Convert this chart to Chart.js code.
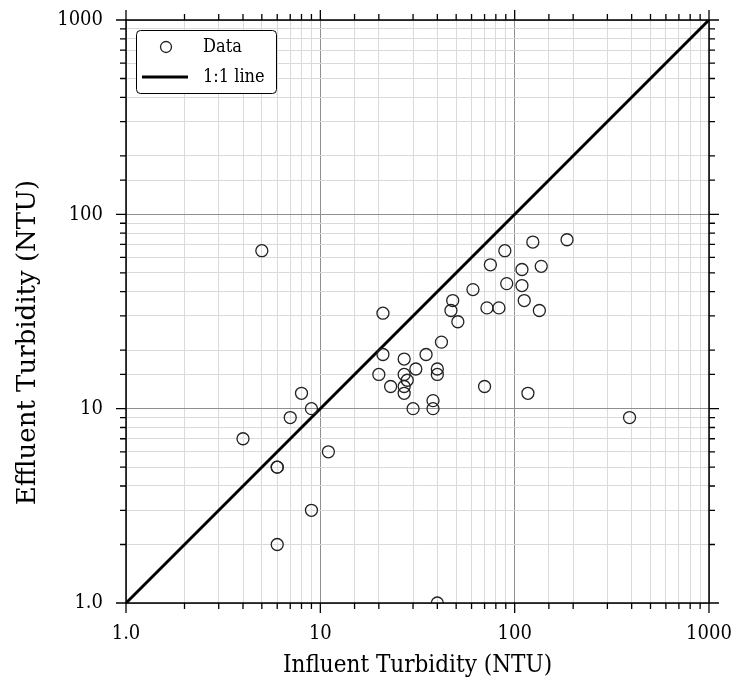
<!DOCTYPE html>
<html>
<head>
<meta charset="utf-8">
<script src="https://cdn.jsdelivr.net/npm/chart.js@4.4.0/dist/chart.umd.min.js"></script>
<style>
    html, body { margin: 0; padding: 0; background: #fff; }
    #wrap { width: 736px; height: 681px; }
</style>
</head>
<body>
<div id="wrap"><canvas id="turbChart" width="736" height="681"></canvas></div>
<script>
// influent / effluent turbidity (NTU)
const influent = [5, 4, 6, 6, 6, 7, 8, 9, 9, 11,
    21, 21, 20, 23, 27, 27, 28, 27, 27, 31, 30, 35, 40, 40, 38, 38, 42,
    48, 47, 51, 61, 72, 83, 75, 89, 91, 70, 109, 109, 112, 124, 137, 134, 117, 186,
    390, 40];
const effluent = [65, 7, 5, 5, 2, 9, 12, 10, 3, 6,
    31, 19, 15, 13, 18, 15, 14, 13, 12, 16, 10, 19, 16, 15, 11, 10, 22,
    36, 32, 28, 41, 33, 33, 55, 65, 44, 13, 52, 43, 36, 72, 54, 32, 12, 74,
    9, 1];
const oneToOne = [1, 1000];
const majorTicks = [1, 10, 100, 1000];
const tickLabels = ['1.0', '10', '100', '1000'];
const xTitle = 'Influent Turbidity (NTU)';
const yTitle = 'Effluent Turbidity (NTU)';

const FONT = "'DejaVu Serif Condensed', 'DejaVu Serif', serif";

function isMajor(v) {
    return majorTicks.includes(Math.round(v * 1000) / 1000);
}

// frame + outward ticks on all four sides, and the y title
const framePlugin = {
    id: 'frame',
    afterDraw(chart) {
        const { ctx, chartArea: a, scales } = chart;
        ctx.save();
        ctx.strokeStyle = '#000';
        ctx.lineWidth = 1.5;
        ctx.strokeRect(a.left, a.top, a.right - a.left, a.bottom - a.top);
        ctx.lineWidth = 1.3;
        ctx.beginPath();
        scales.x.ticks.forEach(t => {
            const px = scales.x.getPixelForValue(t.value);
            const len = isMajor(t.value) ? 10 : 6;
            ctx.moveTo(px, a.bottom); ctx.lineTo(px, a.bottom + len);
            ctx.moveTo(px, a.top); ctx.lineTo(px, a.top - len);
        });
        scales.y.ticks.forEach(t => {
            const py = scales.y.getPixelForValue(t.value);
            const len = isMajor(t.value) ? 10 : 6;
            ctx.moveTo(a.left, py); ctx.lineTo(a.left - len, py);
            ctx.moveTo(a.right, py); ctx.lineTo(a.right + len, py);
        });
        ctx.stroke();

        // y title sits a bit below the middle of the axis in the original
        ctx.translate(35, a.top + (a.bottom - a.top) / 2 + 31);
        ctx.rotate(-Math.PI / 2);
        ctx.fillStyle = '#000';
        ctx.font = "26px 'DejaVu Serif', serif";
        ctx.textAlign = 'center';
        ctx.textBaseline = 'alphabetic';
        ctx.fillText(yTitle, 0, 0);
        ctx.restore();
    }
};

// boxed legend in the top-left corner of the plot
const boxLegend = {
    id: 'boxLegend',
    afterDraw(chart) {
        const { ctx, chartArea: a } = chart;
        const ds = chart.data.datasets;
        const x = a.left + 10, y = a.top + 10, w = 140, h = 63;
        ctx.save();
        ctx.fillStyle = '#fff';
        ctx.strokeStyle = '#000';
        ctx.lineWidth = 1;
        ctx.beginPath();
        ctx.roundRect(x + 0.5, y + 0.5, w, h, 4);
        ctx.fill();
        ctx.stroke();

        ctx.strokeStyle = '#222';
        ctx.lineWidth = 1.3;
        ctx.beginPath();
        ctx.arc(x + 30, y + 17, 5.5, 0, Math.PI * 2);
        ctx.stroke();

        ctx.strokeStyle = '#000';
        ctx.lineWidth = 3;
        ctx.beginPath();
        ctx.moveTo(x + 6, y + 47);
        ctx.lineTo(x + 52, y + 47);
        ctx.stroke();

        ctx.fillStyle = '#000';
        ctx.font = '18px ' + FONT;
        ctx.textBaseline = 'middle';
        ctx.fillText(ds[0].label, x + 67, y + 17);
        ctx.fillText(ds[1].label, x + 67, y + 47);
        ctx.restore();
    }
};

const points = influent.map((v, i) => ({ x: v, y: effluent[i] }));

function axisOpts(title, isX) {
    return {
        type: 'logarithmic',
        min: 1,
        max: 1000,
        border: { display: false },
        grid: {
            drawTicks: false,
            color: c => isMajor(c.tick.value) ? '#8f8f8f' : '#dadada',
            lineWidth: 1
        },
        ticks: {
            autoSkip: false,
            maxRotation: 0,
            padding: isX ? 19 : 23,
            color: '#000',
            font: { family: FONT, size: 20 },
            callback: v => {
                const i = majorTicks.indexOf(v);
                return i >= 0 ? tickLabels[i] : '';
            }
        },
        title: {
            display: isX,
            text: title,
            color: '#000',
            font: { family: FONT, size: 24 },
            padding: { top: 0, bottom: 1 }
        },
        afterFit: s => {
            if (isX) { s.height = 78; s.paddingLeft = 0; s.paddingRight = 0; }
            else { s.width = 126; s.paddingTop = 0; s.paddingBottom = 0; }
        }
    };
}

new Chart(document.getElementById('turbChart'), {
    type: 'scatter',
    data: {
        datasets: [
            {
                label: 'Data',
                data: points,
                pointStyle: 'circle',
                pointRadius: 6,
                pointBorderWidth: 1.3,
                borderColor: '#222',
                backgroundColor: 'rgba(0,0,0,0)'
            },
            {
                label: '1:1 line',
                type: 'line',
                data: oneToOne.map(v => ({ x: v, y: v })),
                borderColor: '#000',
                borderWidth: 3,
                pointRadius: 0,
                fill: false
            }
        ]
    },
    options: {
        responsive: false,
        animation: false,
        layout: { padding: { top: 20, right: 27, left: 0, bottom: 0 } },
        plugins: {
            legend: { display: false },
            tooltip: { enabled: false }
        },
        scales: {
            x: axisOpts(xTitle, true),
            y: axisOpts(yTitle, false)
        }
    },
    plugins: [framePlugin, boxLegend]
});
</script>
</body>
</html>
